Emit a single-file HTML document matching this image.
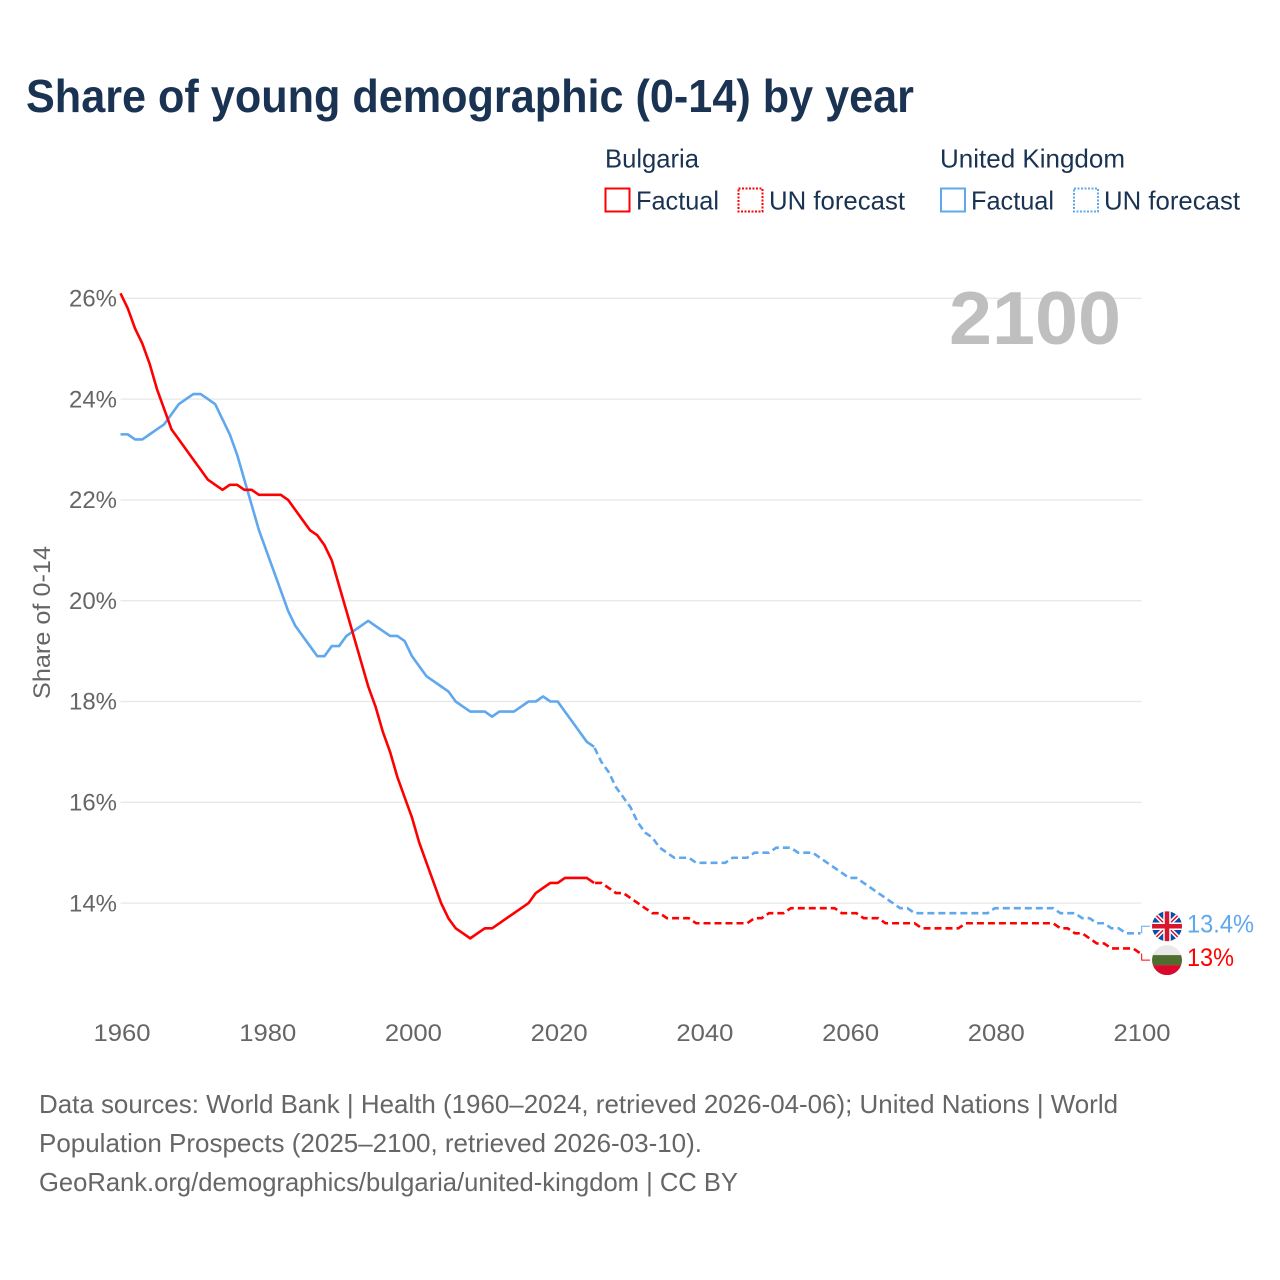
<!DOCTYPE html>
<html lang="en">
<head>
<meta charset="utf-8">
<title>Share of young demographic (0-14) by year</title>
<style>
html,body{margin:0;padding:0;background:#fff;}
svg{display:block;}
text{font-family:"Liberation Sans",sans-serif;}
</style>
</head>
<body>
<svg id="chart" xmlns="http://www.w3.org/2000/svg" width="1280" height="1280" viewBox="0 0 1280 1280">
  <defs>
    <clipPath id="uk-clip"><circle cx="0" cy="0" r="15"/></clipPath>
    <clipPath id="bg-clip"><circle cx="0" cy="0" r="15"/></clipPath>
  </defs>
  <rect width="1280" height="1280" fill="#fff"/>
  <text x="26" y="112" font-size="46" font-weight="700" fill="#1a3353" textLength="888" lengthAdjust="spacingAndGlyphs">Share of young demographic (0-14) by year</text>

  <g font-size="26" fill="#1a3353">
    <text x="605" y="167.5" textLength="94" lengthAdjust="spacingAndGlyphs">Bulgaria</text>
    <text x="940" y="167.5" textLength="185" lengthAdjust="spacingAndGlyphs">United Kingdom</text>
    <g>
      <rect x="605.5" y="188.5" width="24" height="23" fill="none" stroke="#ff0000" stroke-width="2"/>
      <text x="636" y="209.5" textLength="83" lengthAdjust="spacingAndGlyphs">Factual</text>
    </g>
    <g>
      <rect x="738.5" y="188.5" width="24" height="23" fill="none" stroke="#ff0000" stroke-width="2" stroke-dasharray="2 1.5"/>
      <text x="769" y="209.5" textLength="136" lengthAdjust="spacingAndGlyphs">UN forecast</text>
    </g>
    <g>
      <rect x="941" y="188.5" width="24" height="23" fill="none" stroke="#5fa8ee" stroke-width="2"/>
      <text x="971" y="209.5" textLength="83" lengthAdjust="spacingAndGlyphs">Factual</text>
    </g>
    <g>
      <rect x="1074" y="188.5" width="24" height="23" fill="none" stroke="#5fa8ee" stroke-width="2" stroke-dasharray="2 1.5"/>
      <text x="1104" y="209.5" textLength="136" lengthAdjust="spacingAndGlyphs">UN forecast</text>
    </g>
  </g>

  <g id="grid"></g>
  <text x="949" y="344" font-size="75" font-weight="700" fill="#bfbfbf" textLength="172" lengthAdjust="spacingAndGlyphs">2100</text>
  <g id="y-ticks" font-size="24" fill="#666"></g>
  <g id="x-ticks" font-size="24" fill="#666"></g>
  <text transform="translate(50,699) rotate(-90)" x="0" y="0" font-size="24" fill="#666" textLength="153" lengthAdjust="spacingAndGlyphs">Share of 0-14</text>
  <g id="series"></g>
  <g id="end-markers"></g>

  <g font-size="26" fill="#666">
    <text x="39" y="1113" textLength="1079" lengthAdjust="spacingAndGlyphs">Data sources: World Bank | Health (1960–2024, retrieved 2026-04-06); United Nations | World</text>
    <text x="39" y="1152" textLength="663" lengthAdjust="spacingAndGlyphs">Population Prospects (2025–2100, retrieved 2026-03-10).</text>
    <text x="39" y="1191" textLength="699" lengthAdjust="spacingAndGlyphs">GeoRank.org/demographics/bulgaria/united-kingdom | CC BY</text>
  </g>
</svg>
<script>
const years = [
1960,1961,1962,1963,1964,1965,1966,1967,1968,1969,
1970,1971,1972,1973,1974,1975,1976,1977,1978,1979,
1980,1981,1982,1983,1984,1985,1986,1987,1988,1989,
1990,1991,1992,1993,1994,1995,1996,1997,1998,1999,
2000,2001,2002,2003,2004,2005,2006,2007,2008,2009,
2010,2011,2012,2013,2014,2015,2016,2017,2018,2019,
2020,2021,2022,2023,2024,2025,2026,2027,2028,2029,
2030,2031,2032,2033,2034,2035,2036,2037,2038,2039,
2040,2041,2042,2043,2044,2045,2046,2047,2048,2049,
2050,2051,2052,2053,2054,2055,2056,2057,2058,2059,
2060,2061,2062,2063,2064,2065,2066,2067,2068,2069,
2070,2071,2072,2073,2074,2075,2076,2077,2078,2079,
2080,2081,2082,2083,2084,2085,2086,2087,2088,2089,
2090,2091,2092,2093,2094,2095,2096,2097,2098,2099,
2100];
const bulgariaValues = [
26.1,25.8,25.4,25.1,24.7,24.2,23.8,23.4,23.2,23.0,
22.8,22.6,22.4,22.3,22.2,22.3,22.3,22.2,22.2,22.1,
22.1,22.1,22.1,22.0,21.8,21.6,21.4,21.3,21.1,20.8,
20.3,19.8,19.3,18.8,18.3,17.9,17.4,17.0,16.5,16.1,
15.7,15.2,14.8,14.4,14.0,13.7,13.5,13.4,13.3,13.4,
13.5,13.5,13.6,13.7,13.8,13.9,14.0,14.2,14.3,14.4,
14.4,14.5,14.5,14.5,14.5,14.4,14.4,14.3,14.2,14.2,
14.1,14.0,13.9,13.8,13.8,13.7,13.7,13.7,13.7,13.6,
13.6,13.6,13.6,13.6,13.6,13.6,13.6,13.7,13.7,13.8,
13.8,13.8,13.9,13.9,13.9,13.9,13.9,13.9,13.9,13.8,
13.8,13.8,13.7,13.7,13.7,13.6,13.6,13.6,13.6,13.6,
13.5,13.5,13.5,13.5,13.5,13.5,13.6,13.6,13.6,13.6,
13.6,13.6,13.6,13.6,13.6,13.6,13.6,13.6,13.6,13.5,
13.5,13.4,13.4,13.3,13.2,13.2,13.1,13.1,13.1,13.1,
13.0];
const ukValues = [
23.3,23.3,23.2,23.2,23.3,23.4,23.5,23.7,23.9,24.0,
24.1,24.1,24.0,23.9,23.6,23.3,22.9,22.4,21.9,21.4,
21.0,20.6,20.2,19.8,19.5,19.3,19.1,18.9,18.9,19.1,
19.1,19.3,19.4,19.5,19.6,19.5,19.4,19.3,19.3,19.2,
18.9,18.7,18.5,18.4,18.3,18.2,18.0,17.9,17.8,17.8,
17.8,17.7,17.8,17.8,17.8,17.9,18.0,18.0,18.1,18.0,
18.0,17.8,17.6,17.4,17.2,17.1,16.8,16.6,16.3,16.1,
15.9,15.6,15.4,15.3,15.1,15.0,14.9,14.9,14.9,14.8,
14.8,14.8,14.8,14.8,14.9,14.9,14.9,15.0,15.0,15.0,
15.1,15.1,15.1,15.0,15.0,15.0,14.9,14.8,14.7,14.6,
14.5,14.5,14.4,14.3,14.2,14.1,14.0,13.9,13.9,13.8,
13.8,13.8,13.8,13.8,13.8,13.8,13.8,13.8,13.8,13.8,
13.9,13.9,13.9,13.9,13.9,13.9,13.9,13.9,13.9,13.8,
13.8,13.8,13.7,13.7,13.6,13.6,13.5,13.5,13.4,13.4,
13.4];
const lastFactualYear = 2025;
const yTickValues = [14,16,18,20,22,24,26];
const yTickLabels = ["14%","16%","18%","20%","22%","24%","26%"];
const xTickValues = [1960,1980,2000,2020,2040,2060,2080,2100];
const xTickLabels = ["1960","1980","2000","2020","2040","2060","2080","2100"];
const bulgariaEndLabel = "13%";
const ukEndLabel = "13.4%";

const NS = "http://www.w3.org/2000/svg";
function xScale(year){ return 120.5 + (year - 1960) * 7.286; }
function yScale(v){ return 903.1 - (v - 14) * 50.4; }
function make(tag, parent, attrs){
  const el = document.createElementNS(NS, tag);
  for (const k in attrs) el.setAttribute(k, attrs[k]);
  parent.appendChild(el);
  return el;
}
const grid = document.getElementById('grid');
const yTicks = document.getElementById('y-ticks');
const xTicks = document.getElementById('x-ticks');
const seriesLayer = document.getElementById('series');
const endLayer = document.getElementById('end-markers');

yTickValues.forEach(function(v, i){
  const line = make('line', grid, {x1:120.5, x2:1141.5, y1:yScale(v), y2:yScale(v), stroke:'#e9e9e9', 'stroke-width':1.4});
  
  
  const t = make('text', yTicks, {x:69, y:yScale(v) + 8.2, textLength:48, lengthAdjust:'spacingAndGlyphs'});
  t.textContent = yTickLabels[i];
  
  
});
xTickValues.forEach(function(year, i){
  const t = make('text', xTicks, {x:xScale(year) + 1.5 - 28.5, y:1041, textLength:57, lengthAdjust:'spacingAndGlyphs'});
  t.textContent = xTickLabels[i];
  
  
});

function pathFor(values, from, to){
  let d = '';
  years.forEach(function(year, i){
    if (year < from || year > to) return;
    d += (d ? 'L' : 'M') + xScale(year).toFixed(2) + ' ' + yScale(values[i]).toFixed(2);
  });
  return d;
}
function drawSeries(values, color, key){
  const solid = make('path', seriesLayer, {d:pathFor(values, 1960, lastFactualYear), fill:'none', stroke:color, 'stroke-width':2.6, 'stroke-linejoin':'round'});
  
  
  const dashed = make('path', seriesLayer, {d:pathFor(values, lastFactualYear, 2100), fill:'none', stroke:color, 'stroke-width':2.6, 'stroke-dasharray':'7 4', 'stroke-dashoffset':-1});
  
  
}
drawSeries(ukValues, '#5fa8ee', 'uk');
drawSeries(bulgariaValues, '#ff0000', 'bulgaria');

function drawEnd(values, color, key, offset, label, labelWidth){
  const last = values[values.length - 1];
  const endY = yScale(last);
  const flagY = endY + offset;
  const conn = make('path', endLayer, {d:'M1141.7 ' + endY.toFixed(1) + 'V' + flagY.toFixed(1) + 'H1150', fill:'none', stroke:color, 'stroke-width':1});
  
  
  const g = make('g', endLayer, {transform:'translate(1167,' + flagY.toFixed(1) + ')'});
  
  
  const t = make('text', endLayer, {x:1187, y:(flagY + 6).toFixed(1), 'font-size':25, fill:color, textLength:labelWidth, lengthAdjust:'spacingAndGlyphs'});
  t.textContent = label;
  
  
  return g;
}
const ukFlag = drawEnd(ukValues, '#5fa8ee', 'uk', -7, ukEndLabel, 67);
const ukClip = make('g', ukFlag, {'clip-path':'url(#uk-clip)'});
make('rect', ukClip, {x:-15, y:-15, width:30, height:30, fill:'#0d4da1'});
make('path', ukClip, {d:'M-15 -15L15 15M15 -15L-15 15', stroke:'#fff', 'stroke-width':4.5});
make('path', ukClip, {d:'M-15 -15L15 15M15 -15L-15 15', stroke:'#d8152f', 'stroke-width':1.5});
make('path', ukClip, {d:'M0 -15V15M-15 0H15', stroke:'#fff', 'stroke-width':7.5});
make('path', ukClip, {d:'M0 -15V15M-15 0H15', stroke:'#d8152f', 'stroke-width':4.5});

const bgFlag = drawEnd(bulgariaValues, '#ff0000', 'bulgaria', 6.6, bulgariaEndLabel, 47);
const bgClip = make('g', bgFlag, {'clip-path':'url(#bg-clip)'});
make('rect', bgClip, {x:-15, y:-15, width:30, height:10, fill:'#e9e9e9'});
make('rect', bgClip, {x:-15, y:-5, width:30, height:10, fill:'#4d6e2e'});
make('rect', bgClip, {x:-15, y:5, width:30, height:10, fill:'#d9082c'});
</script>
</body>
</html>
